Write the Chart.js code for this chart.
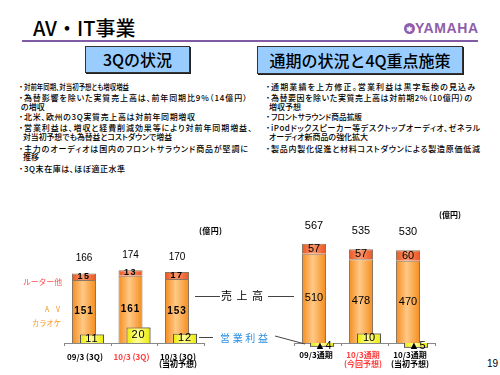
<!DOCTYPE html>
<html lang="ja">
<head>
<meta charset="utf-8">
<title>AV・IT事業</title>
<script src="https://cdn.jsdelivr.net/npm/chart.js@4.4.1/dist/chart.umd.min.js"></script>
<style>
html,body{margin:0;padding:0;background:#fff;}
#page{position:relative;width:500px;height:375px;overflow:hidden;font-family:"Noto Sans CJK JP","Noto Sans",sans-serif;color:#000;}
.a{position:absolute;white-space:nowrap;}
#title{left:33px;top:15px;font-size:20px;line-height:26px;font-weight:500;}
#rule{left:22px;top:40px;width:456px;height:2px;background:#7F5AA5;}
.box{position:absolute;background:#99CCFF;border:1px solid #333;box-shadow:1px 1px 0 #222;text-align:center;font-size:16px;font-weight:500;white-space:nowrap;}
.bl{position:absolute;white-space:nowrap;font-size:8px;line-height:10px;height:10px;font-weight:500;font-feature-settings:"palt";transform-origin:0 50%;}
.dot{position:absolute;font-size:8px;line-height:10px;width:8px;text-align:center;}
.fit{transform-origin:0 50%;}
canvas{position:absolute;}
svg{position:absolute;left:0;top:0;}
</style>
</head>
<body>
<div id="page">
  <div class="a" id="title">AV・IT事業</div>
  <div class="a" id="rule"></div>
  <div class="a" style="left:404px;top:23px;width:11px;height:11px;border-radius:50%;background:#8E5DAA;"></div>
  <div class="a" style="left:404px;top:23px;width:11px;height:11px;line-height:11px;text-align:center;color:#fff;font-size:8px;">✱</div>
  <div class="a fit" data-w="63" style="left:415px;top:21px;font:bold 14px/14px 'Liberation Sans',Arial,sans-serif;color:#8E5DAA;">YAMAHA</div>

  <div class="box" style="left:85px;top:46px;width:103px;height:25px;line-height:25px;">3Qの状況</div>
  <div class="box" style="left:257px;top:46px;width:204px;height:26px;line-height:26px;">通期の状況と4Q重点施策</div>

  <div id="bullets"></div>

  <canvas id="cL" width="160" height="185" style="left:60px;top:190px"></canvas>
  <canvas id="cR" width="190" height="185" style="left:280px;top:190px"></canvas>

  <div class="a fit" data-w="23" style="left:199px;top:226px;font-size:8px;line-height:10px;font-weight:bold;">(億円)</div>
  <div class="a fit" data-w="22" style="left:439px;top:210px;font-size:8px;line-height:10px;font-weight:bold;">(億円)</div>

  <div class="a fit" data-w="39" style="left:23px;top:277px;font-size:8px;line-height:10px;color:#FF4B4B;">ルーター他</div>
  <div class="a fit" data-w="15" style="left:45px;top:304px;font-size:8px;line-height:10px;color:#F7941D;">A　V</div>
  <div class="a fit" data-w="29" style="left:32px;top:318px;font-size:8px;line-height:10px;color:#F7941D;">カラオケ</div>

  <div class="a fit" data-w="42" style="left:221px;top:288px;font-size:11px;line-height:14px;">売上高</div>
  <div class="a fit" data-w="48" style="left:220px;top:331px;font-size:10px;line-height:13px;color:#2A8FE5;">営業利益</div>

  <div class="a" style="left:487px;top:358px;font:10px/12px 'Liberation Sans',Arial,sans-serif;">19</div>

  <svg width="500" height="375">
    <line x1="195" y1="296.5" x2="220" y2="296.5" stroke="#444" stroke-width="1"/>
    <line x1="268" y1="296.5" x2="294" y2="296.5" stroke="#444" stroke-width="1"/>
    <line x1="199" y1="337.5" x2="213" y2="337.5" stroke="#444" stroke-width="1"/>
    <line x1="275" y1="336" x2="305" y2="344" stroke="#444" stroke-width="1"/>
  </svg>
</div>

<script>
// ---------- data ----------
const leftCategories  = [['09/3 (3Q)'], ['10/3 (3Q)'], ['10/3 (3Q)', '(当初予想)']];
const leftRouter      = [15, 13, 17];
const leftAV          = [151, 161, 153];
const leftProfit      = [11, 20, 12];

const rightCategories = [['09/3通期'], ['10/3通期', '(今回予想)'], ['10/3通期', '(当初予想)']];
const rightRouter     = [57, 57, 60];
const rightAV         = [510, 478, 470];
const rightProfit     = [-4, 10, -5];

// ---------- bullet text ----------
const bulletLines = [
  ['対前年同期、対当初予想とも増収増益', 24, 129, 87.3, true],
  ['為替影響を除いた実質売上高は、前年同期比9%（14億円）', 24, 247, 98.3, true],
  ['の増収', 21, null, 106.7, false],
  ['北米、欧州の3Q実質売上高は対前年同期増収', 24, 195, 117.3, true],
  ['営業利益は、増収と経費削減効果等により対前年同期増益、', 24, 252, 128.3, true],
  ['対当初予想でも為替益とコストダウンで増益', 23, 172, 136.7, false],
  ['主力のオーディオは国内のフロントサラウンド商品が堅調に', 24, 248, 149, true],
  ['推移', 23, null, 157.3, false],
  ['3Q末在庫は、ほぼ適正水準', 24, 125, 169.3, true],
  ['通期業績を上方修正。営業利益は黒字転換の見込み', 271, 475, 87.3, true],
  ['為替要因を除いた実質売上高は対前期2%（10億円）の', 271, 472, 98.3, true],
  ['増収予想', 269, null, 106.7, false],
  ['フロントサラウンド商品拡販', 271, 362, 117.3, true],
  ['iPodドックスピーカー等デスクトップオーディオ、ゼネラル', 271, 480, 128.3, true],
  ['オーディオ新商品の強化拡大', 269, 368, 136.7, false],
  ['製品内製化促進と材料コストダウンによる製造原価低減', 271, 480, 149, true]
];
const bwrap = document.getElementById('bullets');
bulletLines.forEach(([txt, x, xe, cy, dot]) => {
  if (dot) {
    const d = document.createElement('div');
    d.className = 'dot';
    d.textContent = '・';
    d.style.left = (x - 7) + 'px';
    d.style.top = (cy - 5) + 'px';
    bwrap.appendChild(d);
  }
  const s = document.createElement('div');
  s.className = 'bl';
  s.textContent = txt;
  s.style.left = x + 'px';
  s.style.top = (cy - 5) + 'px';
  if (xe) s.dataset.j = (xe - x);
  bwrap.appendChild(s);
});

function fitAll() {
  document.querySelectorAll('[data-j]').forEach(el => {
    const target = +el.dataset.j;
    const nat = el.getBoundingClientRect().width;
    const n = [...el.textContent].length;
    if (nat > target) el.style.transform = 'scaleX(' + (target / nat) + ')';
    else if (n > 1) el.style.letterSpacing = ((target - nat) / (n - 1)) + 'px';
  });
  document.querySelectorAll('.fit').forEach(el => {
    const target = +el.dataset.w;
    const nat = el.getBoundingClientRect().width;
    const n = [...el.textContent].length;
    if (nat > target) el.style.transform = 'scaleX(' + (target / nat) + ')';
    else if (n > 1) el.style.letterSpacing = ((target - nat) / (n - 1)) + 'px';
  });
}

// ---------- chart helpers ----------
function grad(edge, mid, flat) {
  return (c) => {
    const el = c.element;
    if (!el || el.x == null || !el.width || isNaN(el.x)) return flat;
    const g = c.chart.ctx.createLinearGradient(el.x - el.width / 2, 0, el.x + el.width / 2, 0);
    g.addColorStop(0, edge);
    g.addColorStop(0.45, mid);
    g.addColorStop(1, edge);
    return g;
  };
}

function makeChart(id, cats, router, av, profit, cfg) {
  const totals = router.map((r, i) => r + av[i]);
  const valuePlugin = {
    id: 'vals',
    afterDatasetsDraw(chart) {
      const ctx = chart.ctx;
      chart.getDatasetMeta(2).controller.draw();
      ctx.save();
      ctx.textAlign = 'center';
      ctx.textBaseline = 'middle';
      ctx.fillStyle = '#000';
      chart.data.datasets.forEach((ds, di) => {
        const meta = chart.getDatasetMeta(di);
        ctx.font = cfg.fonts[di];
        ctx.letterSpacing = cfg.spacing[di];
        meta.data.forEach((bar, i) => {
          const v = ds.data[i];
          const txt = v < 0 ? '▲' + Math.abs(v) : String(v);
          const y = (bar.y + bar.base) / 2 + (v < 0 ? 1 : 0);
          ctx.fillText(txt, bar.x + (v < 0 ? 1 : 0), y);
        });
      });
      ctx.font = cfg.totalFont;
      ctx.letterSpacing = '0px';
      const topMeta = chart.getDatasetMeta(1);
      topMeta.data.forEach((bar, i) => {
        ctx.fillText(String(totals[i]), bar.x, bar.y - cfg.totalDy);
      });
      ctx.restore();
    }
  };
  return new Chart(document.getElementById(id), {
    type: 'bar',
    data: {
      labels: cats,
      datasets: [
        { label: 'AV・カラオケ', data: av, stack: 's', yAxisID: 'y',
          backgroundColor: grad('#F58C1C', '#FFC987', '#FBAA4C'),
          borderColor: '#8C7560', borderWidth: 1,
          categoryPercentage: cfg.cp, barPercentage: 3 },
        { label: 'ルーター他', data: router, stack: 's', yAxisID: 'y',
          backgroundColor: grad('#EC5420', '#F9976A', '#F26A30'),
          borderColor: '#8C7560', borderWidth: 1,
          categoryPercentage: cfg.cp, barPercentage: 3 },
        { label: '営業利益', data: profit, stack: 'p', yAxisID: 'y2', clip: false,
          backgroundColor: grad('#EAEA00', '#FFFF9A', '#FFFF33'),
          borderColor: '#555', borderWidth: 1,
          categoryPercentage: cfg.cp, barPercentage: 3 }
      ]
    },
    options: {
      responsive: false,
      animation: false,
      events: [],
      layout: { padding: { left: cfg.pl, right: cfg.pr, top: 0, bottom: 0 } },
      plugins: { legend: { display: false }, tooltip: { enabled: false } },
      scales: {
        x: {
          stacked: true,
          offset: true,
          grid: { display: true, drawOnChartArea: false, drawTicks: true, tickLength: 3, color: '#888', offset: true },
          border: { display: true, color: '#888', width: 1 },
          ticks: {
            autoSkip: false, maxRotation: 0, minRotation: 0,
            padding: cfg.tickPad, labelOffset: cfg.labelOffset,
            color: (c) => c.index === 1 ? '#FF3B3B' : '#000',
            font: { family: '"Noto Sans CJK JP", sans-serif', size: 8, weight: 'bold', lineHeight: cfg.tickLH }
          },
          afterFit: (s) => { s.height = 32; }
        },
        y: { display: false, stacked: true, min: 0, max: cfg.ymax },
        y2: { display: false, min: 0, max: cfg.y2max }
      }
    },
    plugins: [valuePlugin]
  });
}

function build() {
  fitAll();
  const cl = makeChart('cL', leftCategories, leftRouter, leftAV, leftProfit, {
    cp: 0.344, pl: 4.75, pr: 15.75, ymax: 366, y2max: 196,
    tickPad: 7, labelOffset: -3, tickLH: '7px',
    fonts: ['bold 10px "Liberation Sans", Arial, sans-serif', 'bold 9px "Liberation Sans", Arial, sans-serif', '11px "Liberation Sans", Arial, sans-serif'],
    spacing: ['1px', '1.5px', '1px'],
    totalFont: '10px "Liberation Sans", Arial, sans-serif', totalDy: 15
  });
  const cr = makeChart('cR', rightCategories, rightRouter, rightAV, rightProfit, {
    cp: 0.34, pl: 14.5, pr: 34.5, ymax: 874, y2max: 161,
    tickPad: 4.5, labelOffset: -2, tickLH: '9px',
    fonts: ['11px "Liberation Sans", Arial, sans-serif', '11px "Liberation Sans", Arial, sans-serif', '11px "Liberation Sans", Arial, sans-serif'],
    spacing: ['0px', '0px', '0px'],
    totalFont: '11px "Liberation Sans", Arial, sans-serif', totalDy: 18
  });
  cl.update();
  cr.update();
}
if (document.fonts && document.fonts.ready) document.fonts.ready.then(build); else build();
</script>
</body>
</html>
